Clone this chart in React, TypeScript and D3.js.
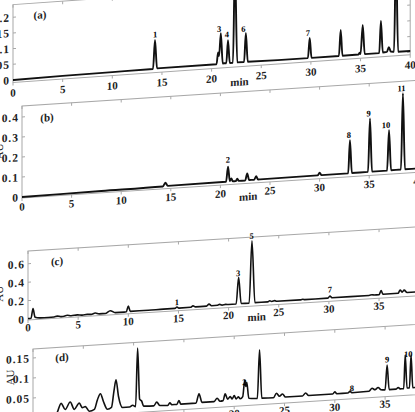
import React from 'react';
import * as d3 from 'd3';

// retention time axis (min)
const X_TICKS = [0, 5, 10, 15, 20, 25, 30, 35, 40];

// (a) standards — [min, AU]
const TRACE_A: [number, number][] = [
  [0, 0], [5, 0.002], [10, 0.003], [14.1, 0.004], [14.3, 0.096], [14.5, 0.005],
  [20.5, 0.005], [20.65, 0.042], [20.75, 0.03], [20.93, 0.103], [21.12, 0.006],
  [21.48, 0.006], [21.65, 0.079], [21.83, 0.006],
  [22.15, 0.006], [22.35, 0.32], [22.58, 0.006],
  [23.27, 0.006], [23.45, 0.098], [23.64, 0.006],
  [29.7, 0.004], [29.88, 0.068], [30.06, 0.004],
  [32.82, 0.004], [33.0, 0.086], [33.18, 0.004],
  [34.8, 0.004], [34.9, 0.01], [35.0, 0.005], [35.22, 0.097], [35.42, 0.004],
  [36.88, 0.004], [37.05, 0.106], [37.24, 0.005], [37.65, 0.006], [37.85, 0.021], [38.05, 0.006],
  [38.37, 0.005], [38.57, 0.32], [38.78, 0.004], [40, 0.004],
];
const LABELS_A = [
  { name: '1', t: 14.3, h: 0.101 },
  { name: '3', t: 20.75, h: 0.104 },
  { name: '4', t: 21.55, h: 0.085 },
  { name: '6', t: 23.2, h: 0.099 },
  { name: '7', t: 29.7, h: 0.072 },
];
const Y_TICKS_A = [0, 0.05, 0.1, 0.15, 0.2];

// (b)
const TRACE_B: [number, number][] = [
  [0, 0], [8, 0.004], [14.2, 0.007], [14.45, 0.025], [14.7, 0.008],
  [20.57, 0.01], [20.77, 0.085], [20.95, 0.012], [21.1, 0.025], [21.25, 0.01],
  [21.55, 0.01], [21.7, 0.022], [21.85, 0.01],
  [22.5, 0.01], [22.7, 0.045], [22.9, 0.011],
  [23.4, 0.011], [23.6, 0.028], [23.8, 0.011],
  [29.8, 0.012], [30.0, 0.025], [30.2, 0.012],
  [32.88, 0.012], [33.06, 0.178], [33.25, 0.013],
  [34.88, 0.013], [35.08, 0.28], [35.28, 0.013],
  [36.8, 0.013], [37.0, 0.215], [37.2, 0.014],
  [38.2, 0.014], [38.4, 0.395], [38.6, 0.014], [40, 0.014],
];
const LABELS_B = [
  { name: '2', t: 20.75, h: 0.1 },
  { name: '8', t: 32.95, h: 0.185 },
  { name: '9', t: 34.95, h: 0.285 },
  { name: '10', t: 36.7, h: 0.222 },
  { name: '11', t: 38.25, h: 0.4 },
];
const Y_TICKS_B = [0, 0.1, 0.2, 0.3, 0.4];

// (c)
const TRACE_C: [number, number][] = [
  [0, 0.005], [0.3, 0.006], [0.5, 0.11], [0.7, 0.015], [1.2, 0.004], [2.0, 0.002],
  [2.6, 0.004], [2.9, 0.012], [3.3, 0.004], [3.6, 0.006], [3.9, 0.014], [4.3, 0.006],
  [4.9, 0.012], [5.4, 0.006], [5.9, 0.01], [6.3, 0.008], [6.7, 0.02], [7.1, 0.008],
  [7.7, 0.008], [8.2, 0.035], [8.7, 0.01], [9.6, 0.01],
  [9.8, 0.012], [10.0, 0.074], [10.2, 0.014], [12, 0.014], [13.5, 0.016],
  [14.65, 0.016], [14.85, 0.03], [15.05, 0.017], [16.2, 0.018], [16.45, 0.032], [16.7, 0.019],
  [17.8, 0.02], [18.05, 0.04], [18.3, 0.02], [18.9, 0.022], [19.1, 0.03], [19.35, 0.02],
  [19.7, 0.026], [20.0, 0.022],
  [20.75, 0.022], [21.0, 0.31], [21.25, 0.025],
  [22.05, 0.024], [22.33, 0.7], [22.62, 0.025],
  [23.9, 0.025], [24.1, 0.035], [24.3, 0.026], [24.6, 0.033], [24.8, 0.026],
  [27.2, 0.024], [27.4, 0.03], [27.6, 0.024],
  [29.9, 0.025], [30.1, 0.047], [30.3, 0.026],
  [34.0, 0.026], [34.3, 0.032], [34.5, 0.027], [35.0, 0.028], [35.2, 0.07], [35.4, 0.03],
  [36.9, 0.03], [37.1, 0.065], [37.3, 0.04], [37.5, 0.06], [37.8, 0.032], [40, 0.034],
];
const LABELS_C = [
  { name: '1', t: 14.85, h: 0.04 },
  { name: '3', t: 20.95, h: 0.315 },
  { name: '5', t: 22.3, h: 0.71 },
  { name: '7', t: 30.1, h: 0.076 },
];
const Y_TICKS_C = [0, 0.2, 0.4, 0.6];

// (d)
const TRACE_D: [number, number][] = [
  [0, 0], [1.5, 0.002], [2.3, 0.006], [2.8, 0.032], [3.2, 0.016], [3.7, 0.034], [4.1, 0.015],
  [4.6, 0.03], [4.9, 0.018], [5.2, 0.02], [5.6, 0.008],
  [6.1, 0.012], [6.4, 0.035], [6.7, 0.05], [7.0, 0.03], [7.4, 0.01],
  [7.8, 0.014], [8.05, 0.055], [8.25, 0.082], [8.5, 0.04], [8.9, 0.012],
  [9.6, 0.012], [9.9, 0.016], [10.2, 0.012], [10.4, 0.158], [10.6, 0.03], [10.8, 0.025], [11.0, 0.012],
  [12.0, 0.011], [12.3, 0.02], [12.6, 0.011], [13.4, 0.01], [13.6, 0.016], [13.8, 0.011],
  [14.3, 0.011], [14.5, 0.02], [14.7, 0.011],
  [16.2, 0.011], [16.5, 0.034], [16.8, 0.012], [18.0, 0.012], [18.3, 0.02], [18.6, 0.012],
  [18.9, 0.013], [19.1, 0.03], [19.35, 0.016], [19.6, 0.022], [19.8, 0.016], [20.0, 0.024],
  [20.2, 0.015], [20.4, 0.02], [20.6, 0.015],
  [20.85, 0.02], [21.05, 0.061], [21.15, 0.045], [21.25, 0.055], [21.45, 0.015],
  [22.3, 0.013], [22.52, 0.134], [22.74, 0.013],
  [23.9, 0.012], [24.2, 0.023], [24.5, 0.015], [24.8, 0.02], [25.1, 0.012],
  [26.8, 0.012], [27.1, 0.019], [27.4, 0.012],
  [29.8, 0.012], [30.0, 0.017], [30.2, 0.012], [31.3, 0.012], [31.5, 0.016], [31.7, 0.012],
  [33.4, 0.013], [33.7, 0.02], [34.0, 0.016], [34.3, 0.021], [34.6, 0.015], [35.0, 0.014],
  [35.2, 0.076], [35.4, 0.014], [36.1, 0.014], [36.3, 0.018], [36.5, 0.014],
  [36.85, 0.014], [37.0, 0.098], [37.18, 0.015], [37.42, 0.015], [37.58, 0.097], [37.75, 0.015],
  [40, 0.015],
];
const LABELS_D = [
  { name: '2', t: 21.0, h: 0.046 },
  { name: '8', t: 31.7, h: 0.014 },
  { name: '9', t: 35.2, h: 0.08 },
  { name: '10', t: 37.3, h: 0.09 },
];
const Y_TICKS_D = [0, 0.05, 0.1, 0.15];

// layout of the four stacked (slightly sheared, scanned) panels
const PANELS = [
  { tag: '(a)', trace: TRACE_A, labels: LABELS_A, yTicks: Y_TICKS_A, x0: 13, y0: 80, ppm: 9.93, ppa: 314, slope: 0.07, yMin: -0.008, yMax: 0.24, lw: 1.9, tagDx: 27, tagDy: 12, auDx: -30, auAt: 0.12, tickDy: 14, minDy: 19 },
  { tag: '(b)', trace: TRACE_B, labels: LABELS_B, yTicks: Y_TICKS_B, x0: 22, y0: 197, ppm: 9.92, ppa: 200, slope: 0.065, yMin: -0.005, yMax: 0.455, lw: 1.9, tagDx: 25, tagDy: 13, auDx: -23, auAt: 0.235, tickDy: 12.5, minDy: 17 },
  { tag: '(c)', trace: TRACE_C, labels: LABELS_C, yTicks: Y_TICKS_C, x0: 28, y0: 319, ppm: 10.03, ppa: 92, slope: 0.062, yMin: -0.01, yMax: 0.74, lw: 1.6, tagDx: 29, tagDy: 12, auDx: -29, auAt: 0.29, tickDy: 11.5, minDy: 15 },
  { tag: '(d)', trace: TRACE_D, labels: LABELS_D, yTicks: Y_TICKS_D, x0: 33, y0: 418, ppm: 10.06, ppa: 400, slope: 0.064, yMin: -0.003, yMax: 0.1725, lw: 1.6, tagDx: 29, tagDy: 10, auDx: -23, auAt: 0.105, tickDy: 11, minDy: 17 },
];

const SERIF = '"Liberation Serif", "DejaVu Serif", serif';
const FRAME = '#a8a8a8';

const Panel = ({ p }: { p: typeof PANELS[number] }) => {
  const x = d3.scaleLinear().domain([0, 40]).range([0, 40 * p.ppm]);
  const y = d3.scaleLinear().domain([0, 1]).range([0, -p.ppa]);
  const line = d3.line<[number, number]>()
    .x(d => x(d[0]))
    .y(d => y(d[1]))
    .curve(d3.curveMonotoneX);

  const left = x(0), right = x(40), top = y(p.yMax), bottom = y(p.yMin);
  const angle = -Math.atan(p.slope) * 180 / Math.PI;

  return (
    <g transform={`translate(${p.x0},${p.y0}) skewY(${angle})`}>
      {/* frame */}
      <rect x={left} y={top} width={right - left} height={bottom - top} fill="none" stroke={FRAME} strokeWidth={1} />
      {X_TICKS.map(t => (
        <g key={'xt' + t}>
          <line x1={x(t)} x2={x(t)} y1={bottom} y2={bottom + 3} stroke={FRAME} />
          <line x1={x(t)} x2={x(t)} y1={top} y2={top + 3} stroke={FRAME} />
          <text x={x(t)} y={bottom + p.tickDy} textAnchor="middle" fontSize={11} fontWeight="bold"
            fontFamily={SERIF} fill="#222">{t}</text>
        </g>
      ))}
      {p.yTicks.map(v => (
        <g key={'yt' + v}>
          <line x1={left} x2={left + 3} y1={y(v)} y2={y(v)} stroke={FRAME} />
          <line x1={right} x2={right - 3} y1={y(v)} y2={y(v)} stroke={FRAME} />
          <text x={left - 3} y={y(v)} dy="0.35em" textAnchor="end" fontSize={11.5} fontWeight="bold"
            letterSpacing={1} fontFamily={SERIF} fill="#222">{String(v)}</text>
        </g>
      ))}
      <text x={x(22.8)} y={bottom + p.minDy} textAnchor="middle" fontSize={11} fontWeight="bold"
        fontFamily={SERIF} fill="#222">min</text>
      <text transform={`translate(${p.auDx},${y(p.auAt)}) rotate(-90)`} textAnchor="middle" dy="0.35em"
        fontSize={11} fontFamily={SERIF} fill="#222">AU</text>
      <text x={p.tagDx} y={top + p.tagDy} dy="0.35em" textAnchor="middle" fontSize={11} fontWeight="bold"
        fontFamily={SERIF} fill="#222">{p.tag}</text>

      {/* chromatogram */}
      <path d={line(p.trace) || ''} fill="none" stroke="#111" strokeWidth={p.lw} strokeLinejoin="round" />
      {p.labels.map(l => (
        <text key={'pk' + l.name} x={x(l.t)} y={y(l.h) - 1} textAnchor="middle" fontSize={8.5}
          fontWeight="bold" fontFamily={SERIF} fill="#000">{l.name}</text>
      ))}
    </g>
  );
};

export default function App() {
  return (
    <div style={{ position: 'absolute', left: 0, top: 0, width: 415, height: 412, overflow: 'hidden', background: '#fff' }}>
      <svg width={415} height={412} style={{ display: 'block' }}>
        <rect width={415} height={412} fill="#fff" />
        {PANELS.map(p => <Panel key={p.tag} p={p} />)}
      </svg>
    </div>
  );
}
